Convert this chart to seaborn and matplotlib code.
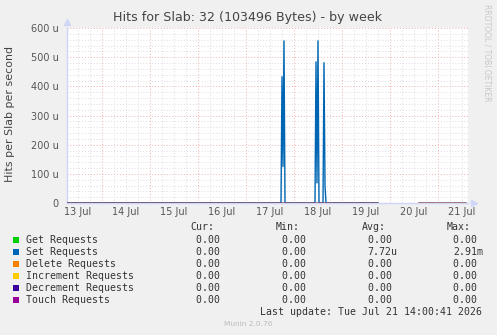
import numpy as np
import pandas as pd
import matplotlib
matplotlib.use("Agg")
import matplotlib.pyplot as plt
import seaborn as sns

# ---------------- data (hours since 13 Jul 00:00, values in micro-hits/s) ----------------
day_labels = ["13 Jul", "14 Jul", "15 Jul", "16 Jul", "17 Jul", "18 Jul", "19 Jul", "20 Jul", "21 Jul"]
y_ticks = [0, 100, 200, 300, 400, 500, 600]

set_hours_a = [6.5, 113.5, 114, 114.5, 115, 115.5, 130.5, 131, 131.5, 132, 132.5,
               134.5, 135, 135.5, 136, 162]
set_values_a = [0, 0, 433, 125, 556, 0, 0, 484, 69, 556, 0, 0, 481, 60, 0, 0]
set_hours_b = [182, 206]
set_values_b = [0, 0]

zero_hours_a = [6.5, 162]
zero_hours_b = [182, 206]
zero_values = [0, 0]

series_names = ["Get Requests", "Set Requests", "Delete Requests",
                "Increment Requests", "Decrement Requests", "Touch Requests"]
series_colors = ["#00CC00", "#0066B3", "#FF8000", "#FFCC00", "#330099", "#990099"]
cur_vals = ["0.00 ", "0.00 ", "0.00 ", "0.00 ", "0.00 ", "0.00 "]
min_vals = ["0.00 ", "0.00 ", "0.00 ", "0.00 ", "0.00 ", "0.00 "]
avg_vals = ["0.00 ", "7.72u", "0.00 ", "0.00 ", "0.00 ", "0.00 "]
max_vals = ["0.00 ", "2.91m", "0.00 ", "0.00 ", "0.00 ", "0.00 "]

title = "Hits for Slab: 32 (103496 Bytes) - by week"
y_label = "Hits per Slab per second"
last_update = "Last update: Tue Jul 21 14:00:41 2026"

# ---------------- build long table ----------------
rows = []
for name in series_names:
    if name == "Set Requests":
        segs = [(set_hours_a, set_values_a), (set_hours_b, set_values_b)]
    else:
        segs = [(zero_hours_a, zero_values), (zero_hours_b, zero_values)]
    for si, (hh, vv) in enumerate(segs):
        for h, v in zip(hh, vv):
            rows.append({"series": name, "segment": f"{name}-{si}", "hour": h, "value": v})
df = pd.DataFrame(rows)

# ---------------- figure ----------------
W, H = 497, 335
BG = "#F0F0F0"
sns.set_style("white")
plt.rcParams["font.family"] = ["DejaVu Sans"]
fig = plt.figure(figsize=(W / 100, H / 100), dpi=100, facecolor=BG)

L, R, T, B = 67, 468, 28, 203
ax = fig.add_axes([L / W, 1 - B / H, (R - L) / W, (B - T) / H])
ax.set_facecolor("#FFFFFF")

x0, x1 = 6.5, 207.0
ax.set_xlim(x0, x1)
ax.set_ylim(0, 600)

# grid
for h in range(0, 216, 6):
    if x0 < h < x1:
        if h % 24 == 0:
            ax.axvline(h, color="#F2B0B0", lw=0.7, ls=(0, (1, 2)), zorder=1)
        else:
            ax.axvline(h, color="#DDDDDD", lw=0.7, ls=(0, (1, 2)), zorder=0.5)
for v in range(20, 601, 20):
    if v % 100 == 0:
        ax.axhline(v, color="#F2B0B0", lw=0.7, ls=(0, (1, 2)), zorder=1)
    else:
        ax.axhline(v, color="#DDDDDD", lw=0.7, ls=(0, (1, 2)), zorder=0.5)

# axes styling
for s in ["top", "right"]:
    ax.spines[s].set_visible(False)
for s in ["left", "bottom"]:
    ax.spines[s].set_color("#CFD6F8")
    ax.spines[s].set_linewidth(1.0)
    ax.spines[s].set_zorder(2)

# data lines (drawn in Munin order)
for name, col in zip(series_names, series_colors):
    sub = df[df["series"] == name]
    sns.lineplot(data=sub, x="hour", y="value", units="segment", estimator=None,
                 sort=False, color=col, lw=1.0, ax=ax, legend=False, zorder=3)

ax.plot([0], [1.035], marker="^", ms=5, color="#CFD6F8", transform=ax.transAxes, clip_on=False)
ax.plot([1.015], [0], marker=">", ms=5, color="#CFD6F8", transform=ax.transAxes, clip_on=False)

ax.set_xticks([12 + 24 * i for i in range(len(day_labels))])
ax.set_xticklabels(day_labels)
ax.set_yticks(y_ticks)
ax.set_yticklabels(["0" if v == 0 else f"{v} u" for v in y_ticks])
ax.tick_params(axis="both", length=0, labelsize=7, labelcolor="#555555")
ax.tick_params(axis="x", pad=3)
ax.tick_params(axis="y", pad=6)
ax.set_xlabel("")
ax.set_ylabel("")


def ftext(x, y, s, **kw):
    fig.text(x / W, 1 - y / H, s, **kw)


ftext(248, 18, title, ha="center", va="center", fontsize=9.1, color="#444444")
ftext(10, 114, y_label, ha="center", va="center", rotation=90, fontsize=7.9, color="#444444")
ftext(487, 53, "RRDTOOL / TOBI OETIKER", ha="center", va="center", rotation=270,
      fontsize=5.5, color="#C8C8C8")

mono = dict(family="DejaVu Sans Mono", fontsize=7.1, color="#333333", va="center")
ftext(190, 227, "Cur:", ha="left", **mono)
ftext(275.3, 227, "Min:", ha="left", **mono)
ftext(361.7, 227, "Avg:", ha="left", **mono)
ftext(446.7, 227, "Max:", ha="left", **mono)
for i, (name, col) in enumerate(zip(series_names, series_colors)):
    y = 239.7 + 12 * i
    fig.patches.append(plt.Rectangle(((13) / W, 1 - (y + 3.2) / H), 6 / W, 6 / H,
                                     transform=fig.transFigure, facecolor=col,
                                     edgecolor="none", figure=fig))
    ftext(26, y, name, ha="left", **mono)
    ftext(195.7, y, cur_vals[i], ha="left", **mono)
    ftext(281.7, y, min_vals[i], ha="left", **mono)
    ftext(367.7, y, avg_vals[i], ha="left", **mono)
    ftext(453.3, y, max_vals[i], ha="left", **mono)
ftext(482.5, 311.7, last_update, ha="right", **mono)
ftext(248, 324, "Munin 2.0.76", ha="center", va="center", fontsize=5.3, color="#BBBBBB")

fig.savefig("out.png", dpi=100, facecolor=BG)
